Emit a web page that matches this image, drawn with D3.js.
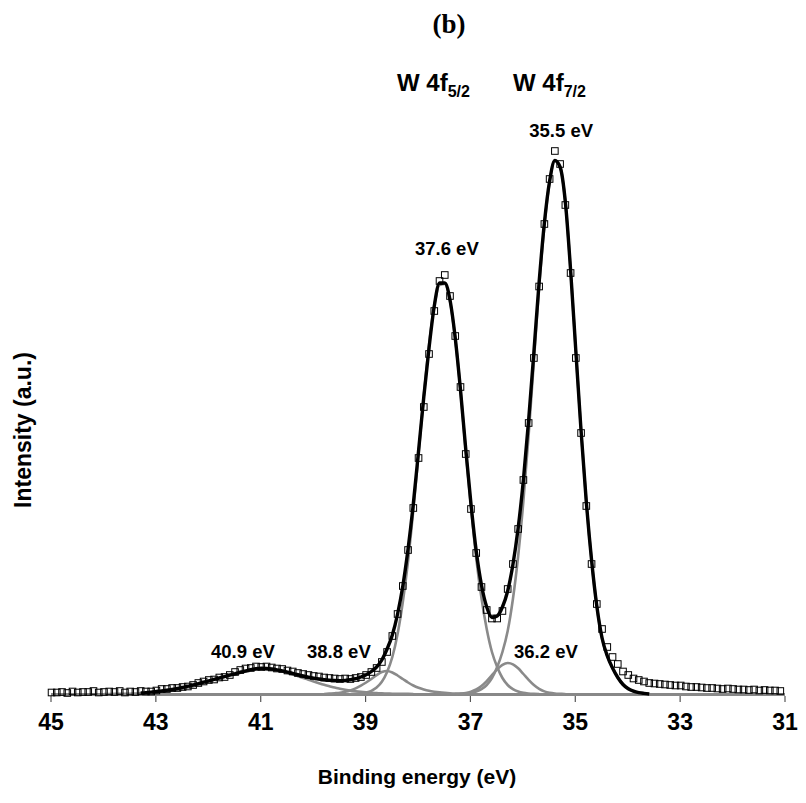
<!DOCTYPE html>
<html>
<head>
<meta charset="utf-8">
<script src="https://cdn.jsdelivr.net/npm/d3@7"></script>
<style>
  body { margin: 0; background: #fff; }
  svg { display: block; }
  text { font-family: Arial, "Liberation Sans", sans-serif; font-weight: bold; fill: #000; }
</style>
</head>
<body>
<svg width="806" height="803"></svg>
<script>
// scan: first binding energy and step (eV), one point per step
const scanStart = 44.98
const scanStep = 0.1

const counts = [
  1.5, 1.5, 2, 1, 2.5, 1.5, 2, 2, 3, 1.5,
  2, 2.5, 2, 3, 1.5, 2.5, 2, 3, 2.5, 2.5,
  3.5, 5, 5, 6, 6, 7, 7.5, 9, 11, 12.5,
  14, 14.5, 16.5, 17, 19, 22, 24, 25.5, 26, 27.5,
  27, 27.5, 26.5, 25.5, 25, 23.5, 22.5, 21, 20, 19,
  18, 17.5, 16.5, 16, 15.5, 15, 15.5, 15, 16, 17,
  19, 22, 26, 32, 42, 58, 80, 108, 144, 186,
  236, 287, 340, 383, 413, 419, 398, 358, 307, 240,
  185, 141, 107, 84, 75.5, 75.5, 83, 105, 130, 165,
  214, 271, 336, 407.5, 470, 515, 543, 530, 489, 421,
  336, 261, 188, 130, 90, 65, 47, 37, 30, 22.5,
  19, 15.5, 14, 12.5, 11, 10.5, 10, 9.5, 9, 8.5,
  8.5, 7.5, 7, 7, 6.5, 6, 6, 5.5, 5, 5.5,
  5, 4.5, 4.5, 4, 4.5, 3.5, 4, 3.5, 3.5, 3
]

// fitted envelope, starts at scan point 17
const envelopeFrom = 17
const envelope = [
  1.0, 1.4, 1.9, 2.5, 3.1, 3.8, 4.6, 5.5, 6.6, 7.8,
  9.0, 10.4, 11.8, 13.2, 14.6, 16.0, 17.4, 18.8, 20.2, 21.6,
  22.9, 24.4, 25.3, 25.7, 25.5, 25.0, 24.2, 23.1, 21.9, 20.6,
  19.3, 18.0, 16.9, 15.9, 15.0, 14.3, 13.8, 13.5, 13.4, 13.6,
  14.2, 15.3, 17.0, 19.3, 22.5, 27, 34, 45, 59, 80,
  108, 145, 190, 243, 297, 346, 388, 411, 411, 394,
  356, 304, 245, 190, 143, 109, 87, 76.5, 78, 87,
  103, 129.5, 166, 214, 274, 342, 412, 471, 513, 533.5,
  527, 492, 424, 343, 263, 192, 134, 88, 56, 38,
  26, 16.5, 9.5, 5.3, 2.8, 1.4, 0.6, 0
]

// fitted components, each with the scan point where it starts
const peak409From = 10
const peak409 = [
  0, 0.05, 0.1, 0.1, 0.2, 0.3, 0.5, 0.6, 0.9, 1.2,
  1.6, 2.1, 2.7, 3.4, 4.3, 5.3, 6.4, 7.8, 9.2, 10.8,
  12.5, 14.3, 16.1, 17.8, 19.5, 21.0, 22.4, 23.5, 24.3, 24.8,
  25.0, 24.8, 24.3, 23.5, 22.4, 21.0, 19.5, 17.8, 16.1, 14.3,
  12.5, 10.8, 9.2, 7.8, 6.4, 5.3, 4.3, 3.4, 2.7, 2.1,
  1.6, 1.2, 0.9, 0.6, 0.5, 0.3, 0.2, 0.1, 0.1, 0
]

const peak388From = 52
const peak388 = [
  0, 0.4, 0.8, 1.3, 2.2, 3.6, 5.6, 8.3, 11.5, 15,
  18.8, 22, 23, 21.5, 18.5, 15, 11.5, 8.5, 6.2, 4.5,
  3.2, 2.3, 1.6, 1.1, 0.7, 0.4, 0.2, 0
]

const peak376From = 57
const peak376 = [
  0, 0.3, 0.6, 1.5, 3.2, 6.5, 12.2, 22, 37, 60,
  92, 133, 184, 240, 298, 349, 388, 409, 410, 393,
  355, 304, 243, 187, 136, 96, 65, 42, 27, 16,
  9, 4.8, 2.4, 1.1, 0.5, 0.2, 0
]

const peak362From = 77
const peak362 = [
  0, 0.4, 1.0, 2.3, 4.5, 8.0, 12.9, 18.8, 24.6, 29.1,
  31, 29.7, 25.7, 20, 14.1, 8.9, 5.1, 2.6, 1.2, 0.5,
  0.2, 0
]

const peak355From = 78
const peak355 = [
  0, 0.5, 1.2, 2.5, 4.8, 9, 16, 27, 42, 63,
  95, 138, 193, 259, 333, 407, 468, 512, 533, 527,
  492, 424, 343, 263, 192, 134, 88, 56, 38, 26,
  16.5, 9.5, 5.3, 2.8, 1.4, 0.6, 0
]

const xTicks = [45, 43, 41, 39, 37, 35, 33, 31]
const peakLabels = ["40.9 eV", "38.8 eV", "37.6 eV", "36.2 eV", "35.5 eV"]

const svg = d3.select('svg')

const baseline = 694

const scaleX = d3.scaleLinear()
  .domain([45, 31])
  .range([50.5, 784.5])

const scaleY = d3.scaleLinear()
  .domain([0, 600])
  .range([baseline, baseline - 600])

const energyAt = i => scanStart - scanStep * i

const toPoints = (values, from) => values.map((v, i) => [energyAt(from + i), v])

const line = d3.line()
  .x(d => scaleX(d[0]))
  .y(d => scaleY(d[1]))
  .curve(d3.curveMonotoneX)

// axis
const axisX = d3.axisBottom(scaleX)
  .tickValues(xTicks)
  .tickSizeInner(8)
  .tickSizeOuter(0)
  .tickPadding(12)
  .tickFormat(d3.format("d"))

const axisXGroup = svg.append("g")
  .attr("class", "x-axis")
  .attr("transform", `translate(0, ${baseline})`)
  .call(axisX)

axisXGroup.select(".domain")
  .attr("stroke", "#888")
  .attr("stroke-width", 3)

axisXGroup.selectAll(".tick line")
  .attr("stroke", "#555")
  .attr("stroke-width", 1.2)
  .attr("y1", 2)

axisXGroup.selectAll(".tick text")
  .attr("fill", "#000")
  .style("font-size", "23px")
  .style("font-family", "Arial, 'Liberation Sans', sans-serif")
  .style("font-weight", "bold")

// components
const comps = [
  [peak409, peak409From],
  [peak388, peak388From],
  [peak376, peak376From],
  [peak362, peak362From],
  [peak355, peak355From]
]

svg.append("g")
  .selectAll("path")
  .data(comps)
  .enter()
  .append("path")
  .attr("d", d => line(toPoints(d[0], d[1])))
  .attr("fill", "none")
  .attr("stroke", "#8a8a8a")
  .attr("stroke-width", 2.6)

// envelope
svg.append("path")
  .attr("d", line(toPoints(envelope, envelopeFrom)))
  .attr("fill", "none")
  .attr("stroke", "#000")
  .attr("stroke-width", 3.4)
  .attr("stroke-linejoin", "round")

// measured points
svg.append("g")
  .selectAll("rect")
  .data(toPoints(counts, 0))
  .enter()
  .append("rect")
  .attr("x", d => scaleX(d[0]) - 3.3)
  .attr("y", d => scaleY(d[1]) - 3.3)
  .attr("width", 6.6)
  .attr("height", 6.6)
  .attr("fill", "none")
  .attr("stroke", "#000")
  .attr("stroke-width", 1)

// peak labels (centre energy, intensity of the text baseline)
const labelSpots = [[41.33, 36], [39.5, 36], [37.44, 439], [35.55, 36], [35.26, 557]]

svg.append("g")
  .selectAll("text")
  .data(peakLabels)
  .enter()
  .append("text")
  .attr("x", (d, i) => scaleX(labelSpots[i][0]))
  .attr("y", (d, i) => scaleY(labelSpots[i][1]))
  .attr("text-anchor", "middle")
  .style("font-size", "18.5px")
  .text(d => d)

// doublet labels
const doublet = [["W 4f", "5/2", 397], ["W 4f", "7/2", 513]]

doublet.forEach(d => {
  const t = svg.append("text")
    .attr("x", d[2])
    .attr("y", 90.5)
    .style("font-size", "24px")
  t.append("tspan").text(d[0])
  t.append("tspan")
    .attr("dy", 6)
    .style("font-size", "16px")
    .text(d[1])
})

// title
svg.append("text")
  .attr("x", 449)
  .attr("y", 33)
  .attr("text-anchor", "middle")
  .style("font-family", "'Times New Roman', 'Liberation Serif', serif")
  .style("font-size", "27px")
  .text("(b)")

// axis titles
svg.append("text")
  .attr("x", 417)
  .attr("y", 784)
  .attr("text-anchor", "middle")
  .style("font-size", "21px")
  .text("Binding energy (eV)")

svg.append("text")
  .attr("transform", "translate(31, 430) rotate(-90)")
  .attr("text-anchor", "middle")
  .style("font-size", "23px")
  .text("Intensity (a.u.)")
</script>
</body>
</html>
